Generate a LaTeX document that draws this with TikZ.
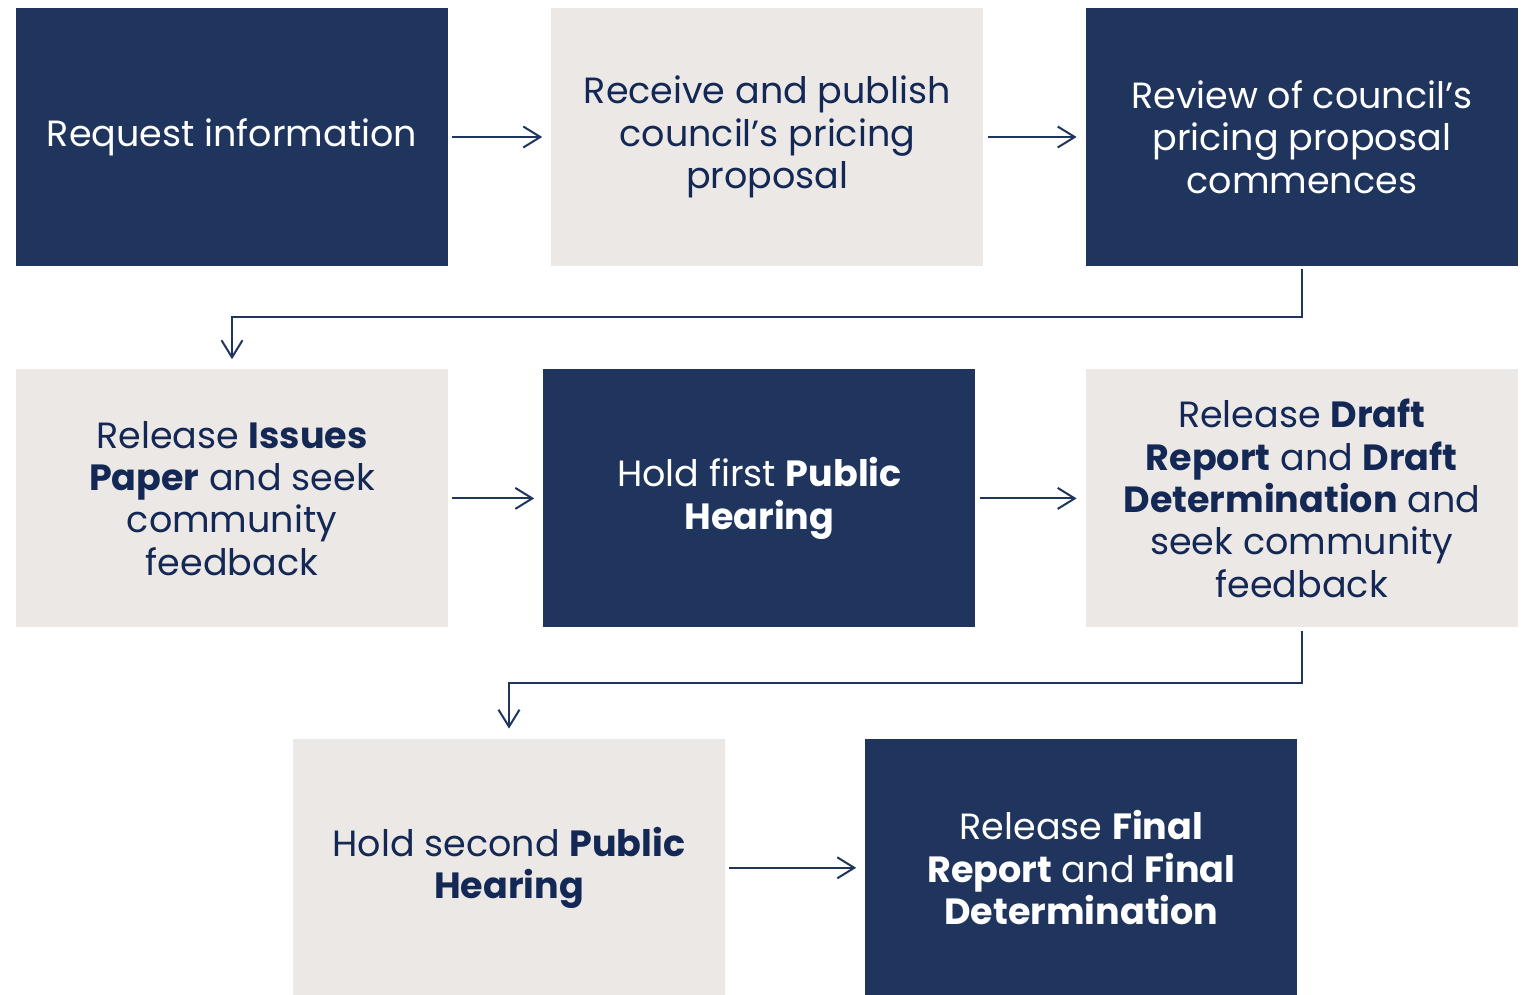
\documentclass[tikz,border=0pt]{standalone}
\usepackage{fontspec}
\setmainfont{Poppins}
\usetikzlibrary{positioning,arrows.meta}

\definecolor{navy}{HTML}{1F355E}
\definecolor{navytext}{HTML}{142856}
\definecolor{stone}{HTML}{ECE8E5}

\tikzset{
  box/.style={minimum width=432pt, minimum height=258pt, inner sep=0pt,
    align=center, font=\fontsize{36.5}{42.3}\selectfont},
  darkbox/.style={box, fill=navy, text=white},
  lightbox/.style={box, fill=stone, text=navytext},
  flow/.style={draw=navy, line width=2pt,
    -{Straight Barb[length=17pt,width=21pt,line width=2pt]}}
}

\begin{document}
\begin{tikzpicture}[x=1pt, y=-1pt]
        \useasboundingbox (0,0) rectangle (1524,994);
        \node [darkbox] (1) at (232,137) {Request information};
        \node [lightbox, right=103pt of 1] (2) {Receive and publish\\council's pricing\\proposal};
        \node [darkbox, right=102pt of 2] (3) {Review of council's\\pricing proposal\\commences};
        \node [lightbox, below=103pt of 1] (4) {Release \textbf{Issues}\\\textbf{Paper} and seek\\community\\feedback};
        \node [darkbox, right=95pt of 4] (5) {Hold first \textbf{Public}\\\textbf{Hearing}};
        \node [lightbox, right=110pt of 5] (6) {Release \textbf{Draft}\\\textbf{Report} and \textbf{Draft}\\\textbf{Determination} and\\seek community\\feedback};
        \node [lightbox, below=111pt of 4, xshift=277pt] (7) {Hold second \textbf{Public}\\\textbf{Hearing}};
        \node [darkbox, right=140pt of 7] (8) {Release \textbf{Final}\\\textbf{Report} and \textbf{Final}\\\textbf{Determination}};
        \draw[flow, shorten <=4pt, shorten >=9pt] (1) -- (2);
        \draw[flow, shorten <=4pt, shorten >=9pt] (2) -- (3);
        \draw[flow, shorten <=4pt, shorten >=9pt] (4) -- (5);
        \draw[flow, shorten <=4pt, shorten >=9pt] (5) -- (6);
        \draw[flow, shorten <=4pt, shorten >=9pt] (7) -- (8);
        \draw[flow, shorten <=3pt, shorten >=10pt] (3.south) |- ([yshift=52pt]4.north) -- (4.north);
        \draw[flow, shorten <=3pt, shorten >=10pt] (6.south) |- ([yshift=56pt]7.north) -- (7.north);
      \end{tikzpicture}
\end{document}
